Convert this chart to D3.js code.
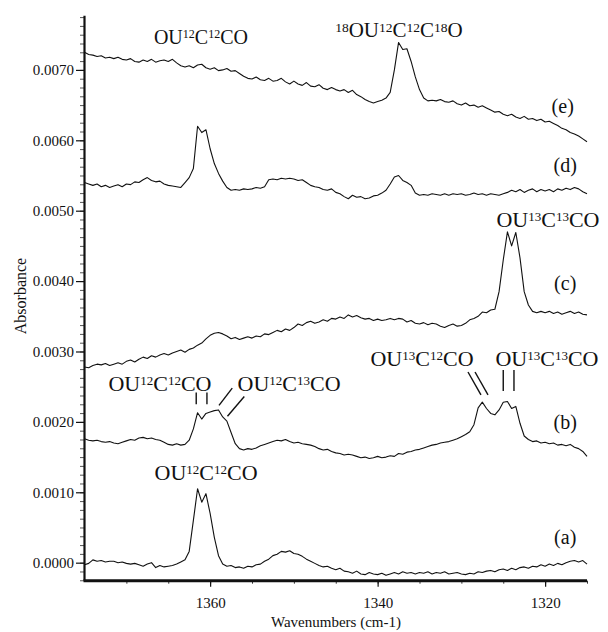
<!DOCTYPE html>
<html>
<head>
<meta charset="utf-8">
<script src="https://cdn.jsdelivr.net/npm/d3@7"></script>
<style>
  html, body { margin: 0; padding: 0; background: #fff; }
  svg { display: block; }
  text { font-family: "Liberation Serif", "Times New Roman", serif; fill: #111; }
</style>
</head>
<body>
<svg id="chart" width="608" height="632"></svg>
<script>
// Wavenumber grid (cm-1): 0.5 cm-1 steps from 1375 down to 1315
const wavenumbers = d3.range(121).map(i => 1375 - 0.5 * i);

// Absorbance of each spectrum on that grid, in units of 1e-3
const spectrumA = [
  -0.03, -0.01, 0.04, 0.02, 0.03, 0.01, 0.02, 0.02, 0.00, 0.01,
  -0.01, -0.02, -0.01, -0.03, -0.05, -0.02, 0.00, -0.07, -0.04, -0.06,
  -0.05, -0.04, -0.02, 0.01, 0.04, 0.16, 0.60, 1.05, 0.86, 0.98,
  0.70, 0.36, 0.10, -0.02, -0.05, -0.04, -0.07, -0.06, -0.08, -0.05,
  -0.06, -0.03, -0.02, 0.02, 0.05, 0.10, 0.12, 0.16, 0.15, 0.17,
  0.13, 0.12, 0.09, 0.05, 0.02, -0.01, -0.04, -0.06, -0.05, -0.08,
  -0.10, -0.08, -0.12, -0.13, -0.15, -0.12, -0.16, -0.17, -0.14, -0.16,
  -0.17, -0.15, -0.18, -0.16, -0.14, -0.16, -0.13, -0.15, -0.14, -0.16,
  -0.14, -0.15, -0.13, -0.16, -0.14, -0.15, -0.13, -0.16, -0.15, -0.14,
  -0.16, -0.17, -0.15, -0.16, -0.13, -0.14, -0.12, -0.11, -0.13, -0.10,
  -0.09, -0.11, -0.08, -0.10, -0.07, -0.06, -0.08, -0.05, -0.06, -0.03,
  -0.05, -0.02, -0.04, -0.01, -0.03, 0.00, 0.02, 0.03, 0.01, 0.03,
  -0.02
];

const spectrumB = [
  1.76, 1.74, 1.73, 1.74, 1.72, 1.71, 1.72, 1.70, 1.69, 1.71,
  1.73, 1.75, 1.74, 1.77, 1.78, 1.76, 1.77, 1.75, 1.74, 1.71,
  1.68, 1.67, 1.69, 1.67, 1.68, 1.74, 1.90, 2.13, 2.04, 2.12,
  2.14, 2.16, 2.17, 2.07, 2.01, 1.85, 1.69, 1.62, 1.60, 1.62,
  1.61, 1.63, 1.66, 1.68, 1.70, 1.72, 1.74, 1.73, 1.75, 1.72,
  1.70, 1.71, 1.69, 1.68, 1.67, 1.65, 1.62, 1.60, 1.61, 1.58,
  1.56, 1.55, 1.53, 1.54, 1.53, 1.51, 1.49, 1.50, 1.48, 1.49,
  1.51, 1.49, 1.50, 1.52, 1.51, 1.55, 1.54, 1.57, 1.58, 1.60,
  1.61, 1.63, 1.65, 1.67, 1.68, 1.70, 1.71, 1.72, 1.74, 1.76,
  1.79, 1.82, 1.86, 1.96, 2.20, 2.28, 2.19, 2.12, 2.10, 2.17,
  2.28, 2.29, 2.19, 2.22, 1.98, 1.80, 1.75, 1.72, 1.73, 1.70,
  1.71, 1.69, 1.70, 1.67, 1.68, 1.66, 1.68, 1.64, 1.62, 1.58,
  1.51
];

const spectrumC = [
  2.78, 2.77, 2.80, 2.82, 2.81, 2.83, 2.80, 2.82, 2.84, 2.82,
  2.86, 2.88, 2.85, 2.89, 2.92, 2.90, 2.94, 2.92, 2.95, 2.97,
  2.95, 2.98, 3.00, 3.02, 2.99, 3.03, 3.05, 3.09, 3.12, 3.18,
  3.23, 3.26, 3.27, 3.25, 3.22, 3.18, 3.20, 3.17, 3.19, 3.21,
  3.19, 3.22, 3.21, 3.25, 3.24, 3.27, 3.30, 3.28, 3.32, 3.30,
  3.34, 3.39, 3.37, 3.41, 3.43, 3.40, 3.42, 3.45, 3.43, 3.47,
  3.46, 3.49, 3.47, 3.52, 3.49, 3.51, 3.48, 3.46, 3.47, 3.44,
  3.46, 3.44, 3.45, 3.47, 3.45, 3.47, 3.46, 3.42, 3.44, 3.40,
  3.39, 3.41, 3.38, 3.40, 3.39, 3.36, 3.34, 3.37, 3.39, 3.36,
  3.37, 3.40, 3.45, 3.47, 3.50, 3.56, 3.55, 3.59, 3.60, 3.85,
  4.30, 4.70, 4.50, 4.69, 4.33, 3.85, 3.66, 3.57, 3.55, 3.57,
  3.55, 3.57, 3.54, 3.56, 3.53, 3.55, 3.57, 3.54, 3.56, 3.53,
  3.52
];

const spectrumD = [
  5.40, 5.38, 5.36, 5.38, 5.34, 5.36, 5.33, 5.35, 5.37, 5.34,
  5.38, 5.37, 5.41, 5.40, 5.44, 5.47, 5.43, 5.41, 5.42, 5.38,
  5.36, 5.35, 5.34, 5.33, 5.40, 5.47, 5.60, 6.20, 6.11, 6.15,
  5.88, 5.67, 5.53, 5.42, 5.33, 5.29, 5.30, 5.29, 5.31, 5.30,
  5.31, 5.33, 5.32, 5.34, 5.44, 5.45, 5.44, 5.46, 5.45, 5.46,
  5.45, 5.43, 5.44, 5.40, 5.36, 5.34, 5.33, 5.30, 5.29, 5.31,
  5.26, 5.24, 5.20, 5.17, 5.22, 5.19, 5.20, 5.17, 5.18, 5.21,
  5.22, 5.25, 5.29, 5.38, 5.48, 5.50, 5.43, 5.40, 5.36, 5.25,
  5.22, 5.23, 5.22, 5.24, 5.23, 5.22, 5.24, 5.22, 5.24, 5.23,
  5.24, 5.22, 5.23, 5.25, 5.23, 5.24, 5.22, 5.24, 5.23, 5.22,
  5.24, 5.26, 5.29, 5.27, 5.30, 5.26, 5.29, 5.31, 5.27, 5.30,
  5.28, 5.30, 5.27, 5.31, 5.29, 5.32, 5.30, 5.33, 5.31, 5.27,
  5.24
];

const spectrumE = [
  7.25, 7.22, 7.21, 7.19, 7.20, 7.17, 7.18, 7.16, 7.18, 7.15,
  7.14, 7.16, 7.12, 7.11, 7.14, 7.12, 7.15, 7.11, 7.13, 7.14,
  7.12, 7.15, 7.10, 7.06, 7.04, 7.06, 7.03, 7.07, 7.08, 7.03,
  7.01, 7.03, 6.99, 7.00, 7.02, 6.98, 6.99, 6.95, 6.91, 6.88,
  6.87, 6.90, 6.86, 6.85, 6.88, 6.84, 6.85, 6.88, 6.83, 6.80,
  6.84, 6.80, 6.78, 6.82, 6.77, 6.76, 6.79, 6.74, 6.72, 6.75,
  6.72, 6.70, 6.72, 6.68, 6.71, 6.65, 6.62, 6.58, 6.55, 6.53,
  6.55, 6.57, 6.60, 6.68, 7.00, 7.39, 7.29, 7.30, 7.12, 6.90,
  6.72, 6.60, 6.56, 6.57, 6.56, 6.58, 6.55, 6.54, 6.56, 6.52,
  6.50, 6.53, 6.49, 6.50, 6.47, 6.49, 6.46, 6.43, 6.40, 6.41,
  6.37, 6.35, 6.37, 6.33, 6.31, 6.34, 6.30, 6.31, 6.28, 6.30,
  6.26, 6.27, 6.24, 6.21, 6.17, 6.15, 6.11, 6.09, 6.06, 6.02,
  5.98
];

const spectra = [spectrumA, spectrumB, spectrumC, spectrumD, spectrumE];

// Axis ticks
const yTickValues = [0, 1, 2, 3, 4, 5, 6, 7];          // 1e-3 units
const xTickValues = [1360, 1340, 1320];

// Curve tags on the right: [text, wavenumber, absorbance (1e-3) at baseline]
const curveTags = [
  ["(a)", 1317.6, 0.27],
  ["(b)", 1317.6, 1.905],
  ["(c)", 1317.6, 3.88],
  ["(d)", 1317.6, 5.556],
  ["(e)", 1317.9, 6.381]
];

// Species labels: {n} marks an isotope superscript.
// [text, wavenumber at centre, absorbance (1e-3) at baseline, font size, superscript size]
const speciesLabels = [
  ["OU{12}C{12}CO", 1361.1, 7.372, 20, 12],
  ["{18}OU{12}C{12}C{18}O", 1337.45, 7.469, 21, 13.5],
  ["OU{13}C{13}CO", 1319.66, 4.769, 22, 13],
  ["OU{13}C{12}CO", 1334.7, 2.799, 22, 13],
  ["OU{13}C{13}CO", 1319.78, 2.799, 22, 13],
  ["OU{12}C{12}CO", 1365.99, 2.441, 22, 13],
  ["OU{12}C{13}CO", 1350.58, 2.441, 22, 13],
  ["OU{12}C{12}CO", 1360.49, 1.169, 22, 13]
];

// Pointer strokes from the labels to the bands of spectrum (b): [wn1, A1, wn2, A2]
const pointerLines = [
  [1361.66, 2.417, 1361.66, 2.249],
  [1360.38, 2.417, 1360.38, 2.249],
  [1357.36, 2.479, 1358.94, 2.235],
  [1355.92, 2.360, 1357.93, 2.081],
  [1329.21, 2.709, 1327.66, 2.383],
  [1328.37, 2.709, 1326.82, 2.383],
  [1325.00, 2.738, 1325.00, 2.439],
  [1323.72, 2.738, 1323.72, 2.439]
];

const serif = "'Liberation Serif', 'Times New Roman', serif";
const svg = d3.select("#chart");

const x = d3.scaleLinear().domain([1375, 1315]).range([84.5, 587]);
const y = d3.scaleLinear().domain([-0.256, 7.77]).range([580.7, 15.7]);

// Spectra
const line = d3.line()
  .x((d, i) => x(wavenumbers[i]))
  .y(d => y(d));

svg.append("g")
  .selectAll("path")
  .data(spectra)
  .join("path")
  .attr("d", line)
  .attr("fill", "none")
  .attr("stroke", "#111")
  .attr("stroke-width", 1.1)
  .attr("stroke-linejoin", "round");

// Y axis: minor ticks every 0.000125, major ticks every 0.001
const yMinor = d3.range(-2, 63).map(k => k * 0.125).filter(v => v >= -0.256 && v <= 7.77);
svg.append("g")
  .attr("transform", `translate(${x(1375) + 0.5},0)`)
  .call(d3.axisLeft(y).tickValues(yMinor).tickSize(5).tickFormat(""))
  .call(g => g.select(".domain").remove())
  .call(g => g.selectAll("line").attr("stroke", "#555").attr("stroke-width", 1));

svg.append("g")
  .attr("transform", `translate(${x(1375) + 0.5},0)`)
  .call(d3.axisLeft(y).tickValues(yTickValues).tickSize(9).tickPadding(2)
    .tickFormat(v => (v / 1000).toFixed(4)))
  .call(g => g.select(".domain").remove())
  .call(g => g.selectAll("line").attr("stroke", "#111").attr("stroke-width", 1.2))
  .call(g => g.selectAll("text")
    .style("font-family", serif)
    .attr("font-size", 15)
    .attr("fill", "#111"));

// X axis
const xMinor = d3.range(1370, 1314, -5);
svg.append("g")
  .attr("transform", `translate(0,${y(-0.256)})`)
  .call(d3.axisBottom(x).tickValues(xMinor).tickSize(3).tickFormat(""))
  .call(g => g.select(".domain").remove())
  .call(g => g.selectAll("line").attr("stroke", "#333").attr("stroke-width", 1));

svg.append("g")
  .attr("transform", `translate(0,${y(-0.256)})`)
  .call(d3.axisBottom(x).tickValues(xTickValues).tickSize(6).tickPadding(11)
    .tickFormat(d3.format("d")))
  .call(g => g.select(".domain").remove())
  .call(g => g.selectAll("line").attr("stroke", "#111").attr("stroke-width", 1.2))
  .call(g => g.selectAll("text")
    .style("font-family", serif)
    .attr("font-size", 15)
    .attr("fill", "#111"));

// Axis lines
svg.append("line")
  .attr("x1", x(1375)).attr("x2", x(1375))
  .attr("y1", y(7.77)).attr("y2", y(-0.256))
  .attr("stroke", "#111").attr("stroke-width", 2.2);
svg.append("line")
  .attr("x1", x(1375) - 1).attr("x2", x(1315))
  .attr("y1", y(-0.256)).attr("y2", y(-0.256))
  .attr("stroke", "#111").attr("stroke-width", 3);

// Axis titles
svg.append("text")
  .attr("x", 336).attr("y", 627)
  .attr("text-anchor", "middle")
  .attr("font-size", 15)
  .text("Wavenumbers (cm-1)");

svg.append("text")
  .attr("transform", "translate(26,296) rotate(-90)")
  .attr("text-anchor", "middle")
  .attr("font-size", 16)
  .text("Absorbance");

// Curve tags
svg.append("g")
  .selectAll("text")
  .data(curveTags)
  .join("text")
  .attr("x", d => x(d[1]))
  .attr("y", d => y(d[2]))
  .attr("text-anchor", "middle")
  .attr("font-size", 20)
  .text(d => d[0]);

// Species labels with superscripts
const labelG = svg.append("g");
speciesLabels.forEach(([txt, wn, a, fs, ss]) => {
  const t = labelG.append("text")
    .attr("x", x(wn)).attr("y", y(a))
    .attr("text-anchor", "middle")
    .attr("font-size", fs);
  const parts = txt.split(/(\{\d+\})/).filter(s => s.length);
  const rise = 0.66 * (fs - ss);
  let raised = false;
  parts.forEach(p => {
    const isSup = p.startsWith("{");
    const ts = t.append("tspan").text(isSup ? p.slice(1, -1) : p);
    if (isSup) {
      ts.attr("font-size", ss).attr("dy", raised ? 0 : -rise);
      raised = true;
    } else {
      ts.attr("dy", raised ? rise : 0);
      raised = false;
    }
  });
});

// Pointer strokes
svg.append("g")
  .selectAll("line")
  .data(pointerLines)
  .join("line")
  .attr("x1", d => x(d[0])).attr("y1", d => y(d[1]))
  .attr("x2", d => x(d[2])).attr("y2", d => y(d[3]))
  .attr("stroke", "#111")
  .attr("stroke-width", 1.4);
</script>
</body>
</html>
